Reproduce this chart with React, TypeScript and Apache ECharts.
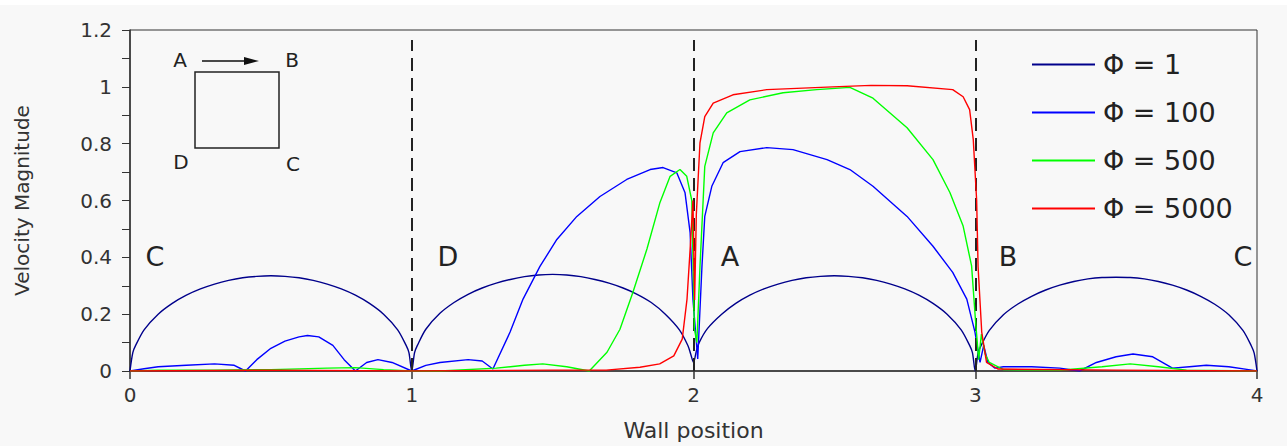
import React, { useEffect, useRef } from "react";
import * as echarts from "echarts";

const seriesNames = ["Φ = 1", "Φ = 100", "Φ = 500", "Φ = 5000"];
const seriesColors = ["#00008b", "#0000ff", "#00ff00", "#ff0000"];
const xTicks = [0, 1, 2, 3, 4];
const wallMarks = [1, 2, 3];
const wallLetters = ["C", "D", "A", "B", "C"];

const phi1X = [
  0, 0.01, 0.02, 0.05, 0.1, 0.15, 0.2, 0.25, 0.3, 0.35, 0.4, 0.45, 0.5, 0.55, 0.6, 0.65, 0.7, 0.75, 0.8, 0.85, 0.9, 0.95, 0.98, 0.99,
  1, 1.01, 1.02, 1.05, 1.1, 1.15, 1.2, 1.25, 1.3, 1.35, 1.4, 1.45, 1.5, 1.55, 1.6, 1.65, 1.7, 1.75, 1.8, 1.85, 1.9, 1.95, 1.98, 1.99,
  2, 2.01, 2.02, 2.05, 2.1, 2.15, 2.2, 2.25, 2.3, 2.35, 2.4, 2.45, 2.5, 2.55, 2.6, 2.65, 2.7, 2.75, 2.8, 2.85, 2.9, 2.95, 2.98, 2.99,
  3, 3.01, 3.02, 3.05, 3.1, 3.15, 3.2, 3.25, 3.3, 3.35, 3.4, 3.45, 3.5, 3.55, 3.6, 3.65, 3.7, 3.75, 3.8, 3.85, 3.9, 3.95, 3.98, 3.99,
  4,
];
const phi1Y = [
  0, 0.065, 0.09, 0.145, 0.2, 0.238, 0.267, 0.289, 0.306, 0.319, 0.328, 0.333, 0.335, 0.333, 0.328, 0.319, 0.306, 0.289, 0.267, 0.238, 0.2, 0.145, 0.09, 0.065,
  0, 0.065, 0.09, 0.147, 0.203, 0.241, 0.27, 0.292, 0.309, 0.322, 0.332, 0.338, 0.34, 0.338, 0.332, 0.322, 0.309, 0.292, 0.27, 0.241, 0.2, 0.145, 0.09, 0.06,
  0.03, 0.07, 0.1, 0.15, 0.2, 0.238, 0.267, 0.289, 0.306, 0.319, 0.328, 0.333, 0.335, 0.333, 0.328, 0.319, 0.306, 0.289, 0.267, 0.238, 0.2, 0.145, 0.09, 0.065,
  0, 0.063, 0.088, 0.143, 0.198, 0.235, 0.263, 0.285, 0.302, 0.315, 0.324, 0.329, 0.33, 0.329, 0.324, 0.315, 0.302, 0.285, 0.263, 0.235, 0.198, 0.143, 0.088, 0.063,
  0,
];

const phi100X = [
  0, 0.05, 0.1, 0.2, 0.3, 0.37, 0.41, 0.45, 0.5, 0.55, 0.6, 0.63, 0.67, 0.72, 0.76, 0.8, 0.84, 0.88, 0.93, 1.0,
  1.05, 1.1, 1.2, 1.25, 1.288, 1.349, 1.395, 1.455, 1.515, 1.586, 1.668, 1.763, 1.846, 1.892, 1.941, 1.97, 1.988, 1.998, 2.015,
  2.03, 2.04, 2.065, 2.105, 2.165, 2.26, 2.353, 2.474, 2.555, 2.637, 2.758, 2.85, 2.92, 2.97, 2.999, 3.017,
  3.03, 3.045, 3.07, 3.1, 3.2, 3.3,
  3.37, 3.43, 3.5, 3.56, 3.63, 3.7, 3.76, 3.82, 3.9, 3.97, 4,
];
const phi100Y = [
  0, 0.008, 0.015, 0.02, 0.025, 0.02, 0, 0.04, 0.08, 0.105, 0.12, 0.125, 0.12, 0.09, 0.04, 0, 0.03, 0.04, 0.03, 0,
  0.02, 0.03, 0.04, 0.035, 0.007, 0.137, 0.253, 0.368, 0.463, 0.544, 0.614, 0.674, 0.709, 0.716, 0.697, 0.627, 0.487, 0.253, 0.042,
  0.368, 0.544, 0.65, 0.733, 0.772, 0.786, 0.779, 0.744, 0.709, 0.65, 0.544, 0.439, 0.347, 0.253, 0.137, 0.03,
  0.09, 0.03, 0.01, 0.015, 0.015, 0.01,
  0, 0.03, 0.05, 0.06, 0.05, 0.01, 0.015, 0.02, 0.015, 0.005, 0,
];

const phi500X = [
  0, 0.1, 0.3, 0.5, 0.7, 0.8, 0.9, 1.0, 1.1, 1.3, 1.4, 1.465, 1.55, 1.63, 1.693, 1.739, 1.785, 1.835, 1.88, 1.917,
  1.952, 1.976, 1.994, 2.003, 2.012, 2.023, 2.04, 2.07, 2.118, 2.2, 2.318, 2.437, 2.555, 2.637, 2.758, 2.85, 2.91,
  2.957, 2.987, 3.0, 3.012, 3.022, 3.035, 3.05, 3.1, 3.3, 3.45, 3.55, 3.65, 3.75, 4,
];
const phi500Y = [
  0, 0.003, 0.003, 0.005, 0.01, 0.012, 0.005, 0, 0, 0.01, 0.02, 0.025, 0.015, 0, 0.066, 0.147, 0.277, 0.43, 0.59, 0.685,
  0.709, 0.685, 0.6, 0.15, 0.1, 0.368, 0.72, 0.838, 0.908, 0.954, 0.979, 0.99, 0.998, 0.96, 0.856, 0.744, 0.628,
  0.51, 0.37, 0.19, 0.04, 0.13, 0.06, 0.03, 0.005, 0.003, 0.015, 0.025, 0.015, 0.003, 0,
];

const phi5000X = [
  0, 0.5, 1, 1.5, 1.69, 1.81, 1.88, 1.93, 1.96, 1.977, 1.988, 1.998, 2.004, 2.01, 2.023, 2.04, 2.07, 2.14, 2.26, 2.495,
  2.63, 2.758, 2.92, 2.957, 2.98, 2.993, 3.005, 3.01, 3.023, 3.04, 3.08, 3.5, 4,
];
const phi5000Y = [
  0, 0.003, 0, 0.003, 0.003, 0.013, 0.025, 0.053, 0.112, 0.253, 0.428, 0.6, 0.25, 0.55, 0.803, 0.895, 0.943, 0.972, 0.99, 1.0,
  1.005, 1.004, 0.99, 0.965, 0.92, 0.814, 0.6, 0.368, 0.137, 0.03, 0.007, 0.003, 0,
];

const allX = [phi1X, phi100X, phi500X, phi5000X];
const allY = [phi1Y, phi100Y, phi500Y, phi5000Y];

export default function App() {
  const ref = useRef<HTMLDivElement>(null);
  useEffect(() => {
    if (!ref.current) return;
    const chart = echarts.init(ref.current, undefined, { renderer: "svg" });
    const font = "DejaVu Sans";
    const series: any[] = seriesNames.map((name, i) => ({
      name,
      type: "line",
      symbol: "none",
      smooth: i === 0 ? 0.3 : false,
      data: allX[i].map((x, j) => [x, allY[i][j]]),
      lineStyle: { color: seriesColors[i], width: 1.4 },
      itemStyle: { color: seriesColors[i] },
      z: 3 + i,
    }));
    series[0].markLine = {
      silent: true,
      symbol: ["none", "none"],
      label: { show: false },
      lineStyle: { type: [13, 7], color: "#222", width: 2 },
      data: wallMarks.map((m) => [{ coord: [m, 0] }, { coord: [m, 1.165] }]),
    };
    const letterX = [155, 448, 730, 1008, 1243];
    const txt = (t: string, x: number, y: number, size: number) => ({
      type: "text",
      style: { text: t, x, y, fontSize: size, fontFamily: font, fill: "#222", align: "center", verticalAlign: "middle" },
    });
    const graphic: any[] = [
      { type: "rect", shape: { x: 0, y: 0, width: 1287, height: 5 }, style: { fill: "#ffffff" }, z: -1 },
      ...wallLetters.map((t, i) => txt(t, letterX[i], 256, 27)),
      txt("A", 180, 60, 20),
      txt("B", 292, 60, 20),
      txt("D", 181, 162, 20),
      txt("C", 293, 164, 20),
      { type: "rect", shape: { x: 195, y: 72, width: 84, height: 76 }, style: { fill: "none", stroke: "#222", lineWidth: 1.5 } },
      { type: "line", shape: { x1: 202, y1: 61, x2: 248, y2: 61 }, style: { stroke: "#111", lineWidth: 1.5 } },
      { type: "polygon", shape: { points: [[244, 57], [259, 61], [244, 65]] }, style: { fill: "#111" } },
    ];
    chart.setOption({
      animation: false,
      backgroundColor: "#f8f8f8",
      textStyle: { fontFamily: font },
      grid: { left: 130, right: 30, top: 30, bottom: 74, show: true, borderColor: "#333", borderWidth: 1, backgroundColor: "transparent" },
      legend: {
        orient: "vertical",
        left: 1027,
        top: 46,
        icon: "rect",
        itemWidth: 63,
        itemHeight: 2,
        itemGap: 21,
        data: seriesNames,
        textStyle: { fontSize: 27, lineHeight: 26, color: "#222", fontFamily: font, padding: [0, 0, 0, 3] },
      },
      xAxis: {
        type: "value",
        min: xTicks[0],
        max: xTicks[xTicks.length - 1],
        interval: 1,
        name: "Wall position",
        nameLocation: "middle",
        nameGap: 48,
        nameTextStyle: { fontSize: 22, color: "#333", fontFamily: font },
        axisLine: { lineStyle: { color: "#333", width: 1.5 } },
        axisTick: { show: true, length: 8, lineStyle: { color: "#333", width: 1.5 } },
        axisLabel: { fontSize: 20, color: "#333", margin: 14 },
        splitLine: { show: false },
      },
      yAxis: {
        type: "value",
        min: 0,
        max: 1.2,
        interval: 0.2,
        name: "Velocity Magnitude",
        nameLocation: "middle",
        nameGap: 98,
        nameTextStyle: { fontSize: 20, color: "#333", fontFamily: font },
        axisLine: { show: true, lineStyle: { color: "#333", width: 1.5 } },
        axisTick: { show: true, length: 8, lineStyle: { color: "#333" } },
        minorTick: { show: true, splitNumber: 2, length: 8, lineStyle: { color: "#333" } },
        axisLabel: { fontSize: 20, color: "#333", margin: 18, formatter: (v: number) => String(+v.toFixed(1)) },
        splitLine: { show: false },
      },
      series,
      graphic,
    });
    return () => chart.dispose();
  }, []);
  return <div ref={ref} style={{ position: "fixed", left: 0, top: 0, width: 1287, height: 446 }} />;
}
